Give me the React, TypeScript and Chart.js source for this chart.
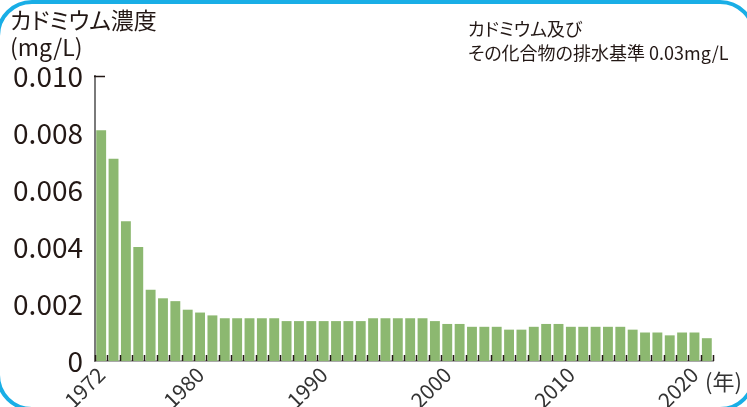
import React, { useEffect, useRef } from 'react';
import { Chart, registerables } from 'chart.js';

Chart.register(...registerables);

const years = [
  '1972', '1973', '1974', '1975', '1976', '1977', '1978', '1979', '1980', '1981',
  '1982', '1983', '1984', '1985', '1986', '1987', '1988', '1989', '1990', '1991',
  '1992', '1993', '1994', '1995', '1996', '1997', '1998', '1999', '2000', '2001',
  '2002', '2003', '2004', '2005', '2006', '2007', '2008', '2009', '2010', '2011',
  '2012', '2013', '2014', '2015', '2016', '2017', '2018', '2019', '2020', '2021',
];

const cadmium = [
  0.0081, 0.0071, 0.0049, 0.0040, 0.0025, 0.0022, 0.0021, 0.0018, 0.0017, 0.0016,
  0.0015, 0.0015, 0.0015, 0.0015, 0.0015, 0.0014, 0.0014, 0.0014, 0.0014, 0.0014,
  0.0014, 0.0014, 0.0015, 0.0015, 0.0015, 0.0015, 0.0015, 0.0014, 0.0013, 0.0013,
  0.0012, 0.0012, 0.0012, 0.0011, 0.0011, 0.0012, 0.0013, 0.0013, 0.0012, 0.0012,
  0.0012, 0.0012, 0.0012, 0.0011, 0.0010, 0.0010, 0.0009, 0.0010, 0.0010, 0.0008,
];

const shownYears = ['1972', '1980', '1990', '2000', '2010', '2020'];
const yMin = 0;
const yMax = 0.01;
const yStep = 0.002;

const FONT = '"Noto Sans CJK JP", "Noto Sans", sans-serif';
const TEXT = '#231815';

const innerTicks = {
  id: 'innerTicks',
  afterDatasetsDraw(chart: any) {
    const { ctx, chartArea, scales } = chart;
    const x = scales.x;
    const y = scales.y;
    const n = chart.data.labels.length;
    ctx.save();
    ctx.strokeStyle = TEXT;
    ctx.lineWidth = 1.5;
    ctx.beginPath();
    for (let i = 0; i <= n; i++) {
      const px = Math.round(x.getPixelForValue(i - 0.5)) + 0.5;
      ctx.moveTo(px, chartArea.bottom);
      ctx.lineTo(px, chartArea.bottom - 6);
    }
    const top = Math.round(y.getPixelForValue(yMax)) + 0.5;
    ctx.moveTo(chartArea.left - 1, top);
    ctx.lineTo(chartArea.left + 10, top);
    ctx.stroke();
    ctx.restore();
  },
};

function CadmiumChart() {
  const ref = useRef<HTMLCanvasElement | null>(null);
  useEffect(() => {
    if (!ref.current) return;
    const chart = new Chart(ref.current, {
      type: 'bar',
      data: {
        labels: years,
        datasets: [
          {
            data: cadmium,
            backgroundColor: '#8cb870',
            borderWidth: 0,
            categoryPercentage: 1,
            barPercentage: 0.8,
          },
        ],
      },
      options: {
        animation: false,
        responsive: false,
        maintainAspectRatio: false,
        devicePixelRatio: 1,
        layout: { padding: { top: 76, right: 34, left: 0, bottom: 0 } },
        plugins: {
          legend: { display: false },
          tooltip: { enabled: false },
          title: { display: false },
        },
        scales: {
          x: {
            offset: true,
            grid: { display: false, drawTicks: false },
            border: { display: true, color: '#a8a8a8', width: 2 },
            ticks: {
              autoSkip: false,
              minRotation: 45,
              maxRotation: 45,
              padding: 1,
              color: '#333',
              font: { family: FONT, size: 21 },
              callback: function (this: any, value: any) {
                const lab = years[value as number];
                return shownYears.includes(lab) ? lab : '';
              },
            },
            afterFit: (scale: any) => {
              scale.height = 46;
            },
          },
          y: {
            min: yMin,
            max: yMax,
            grid: { display: false, drawTicks: false },
            border: { display: true, color: '#7a7a7a', width: 2 },
            ticks: {
              stepSize: yStep,
              padding: 12,
              color: TEXT,
              font: { family: FONT, size: 28 },
              callback: (v: any) => (Number(v) === 0 ? '0' : Number(v).toFixed(3)),
            },
            afterFit: (scale: any) => {
              scale.width = 95;
            },
          },
        },
      },
      plugins: [innerTicks],
    });
    return () => chart.destroy();
  }, []);
  return <canvas ref={ref} width={747} height={407} style={{ position: 'absolute', left: 0, top: 0, width: 747, height: 407 }} />;
}

export default function App() {
  return (
    <div
      style={{
        position: 'fixed',
        left: 0,
        top: 0,
        width: 747,
        height: 407,
        overflow: 'hidden',
        background: '#ffffff',
        fontFamily: FONT,
        color: TEXT,
      }}
    >
      <div
        style={{
          position: 'absolute',
          left: -4,
          top: 0,
          width: 760,
          height: 411,
          border: '4px solid #19aee6',
          borderRadius: 36,
          boxSizing: 'border-box',
        }}
      />
      <CadmiumChart />
      <div style={{ position: 'absolute', left: 10, top: 6, fontSize: 23, lineHeight: '27px', whiteSpace: 'nowrap', fontFeatureSettings: '"palt"' }}>
        カドミウム濃度
        <br />
        (mg/L)
      </div>
      <div style={{ position: 'absolute', left: 468, top: 16, fontSize: 18, lineHeight: '24px', whiteSpace: 'nowrap', fontFeatureSettings: '"palt"' }}>
        カドミウム及び
        <br />
        その化合物の排水基準 0.03mg/L
      </div>
      <div style={{ position: 'absolute', left: 705, top: 367, fontSize: 22, lineHeight: '26px', color: '#333', whiteSpace: 'nowrap' }}>
        (年)
      </div>
    </div>
  );
}
